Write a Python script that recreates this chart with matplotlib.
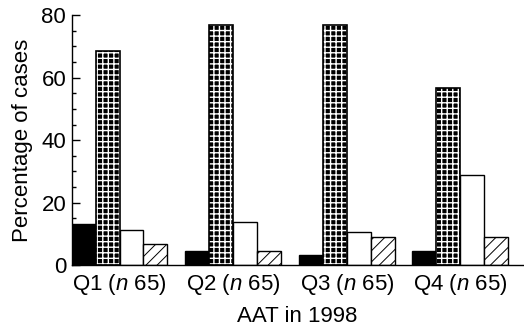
import numpy as np
import matplotlib
matplotlib.use("Agg")
import matplotlib.pyplot as plt
from matplotlib.ticker import MultipleLocator

groups = ["Q1 ($\\it{n}$ 65)", "Q2 ($\\it{n}$ 65)", "Q3 ($\\it{n}$ 65)", "Q4 ($\\it{n}$ 65)"]
black_vals = [13.2, 4.7, 3.2, 4.7]
checker_vals = [68.5, 76.7, 76.7, 56.6]
white_vals = [11.4, 13.9, 10.5, 29.0]
hatched_vals = [6.7, 4.7, 9.1, 9.1]

plt.rcParams['font.family'] = ['Liberation Sans', 'DejaVu Sans']
plt.rcParams['mathtext.fontset'] = 'custom'
plt.rcParams['mathtext.it'] = 'Liberation Sans:italic'
plt.rcParams['mathtext.rm'] = 'Liberation Sans'
fs = 16

fig = plt.figure(figsize=(5.24, 3.31), dpi=100)
ax = fig.add_axes([0.137, 0.1985, 0.861, 0.7562])

x = np.arange(len(groups))
w = 0.211
offs = [-1.5 * w, -0.5 * w, 0.5 * w, 1.5 * w]

ax.bar(x + offs[0], black_vals, w, color='black', edgecolor='black', linewidth=1)

with plt.rc_context({'hatch.linewidth': 1.0}):
    ax.bar(x + offs[1], checker_vals, w, color='black', edgecolor='white',
           hatch='+++', linewidth=0)
ax.bar(x + offs[1], checker_vals, w, fill=False, edgecolor='black', linewidth=1.2)

ax.bar(x + offs[2], white_vals, w, color='white', edgecolor='black', linewidth=1)

with plt.rc_context({'hatch.linewidth': 0.7}):
    ax.bar(x + offs[3], hatched_vals, w, color='white', edgecolor='black',
           hatch='///', linewidth=1)

ax.set_xlim(-0.42, 3.55)
ax.set_ylim(0, 80)
ax.yaxis.set_major_locator(MultipleLocator(20))
ax.yaxis.set_minor_locator(MultipleLocator(5))
ax.set_xticks(x)
ax.set_xticklabels(groups)
ax.tick_params(axis='x', length=0, pad=5, labelsize=fs)
ax.tick_params(axis='y', which='major', direction='in', length=6, width=1, labelsize=fs, pad=4)
ax.tick_params(axis='y', which='minor', direction='in', length=3, width=1)
for s in ['top', 'right']:
    ax.spines[s].set_visible(False)
for s in ['left', 'bottom']:
    ax.spines[s].set_linewidth(1)

ax.set_ylabel("Percentage of cases", fontsize=fs, labelpad=6)
ax.set_xlabel("AAT in 1998", fontsize=fs, labelpad=6)

fig.savefig("out.png", dpi=100)
